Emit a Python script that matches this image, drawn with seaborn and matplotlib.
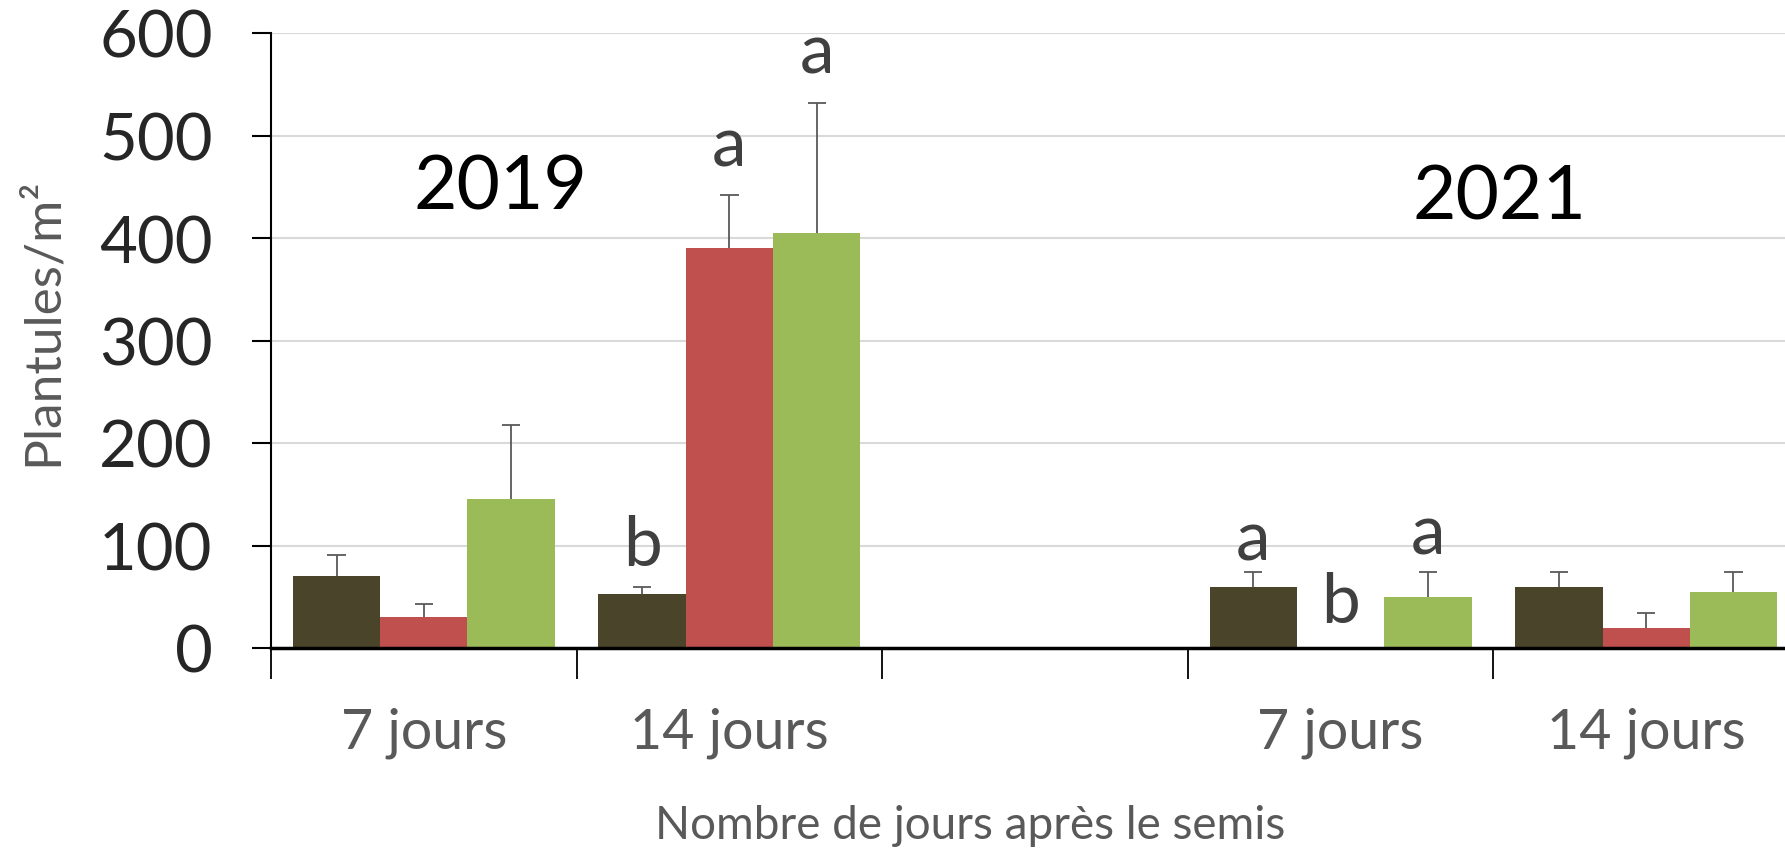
import pandas as pd
import matplotlib
matplotlib.use("Agg")
import matplotlib.pyplot as plt
import seaborn as sns

# données
keys = ["2019_7j", "2019_14j", "vide", "2021_7j", "2021_14j"]
tick_labels = ["7 jours", "14 jours", "", "7 jours", "14 jours"]
series = ["Série 1", "Série 2", "Série 3"]
colors = ["#4a452a", "#c0504d", "#9bbb59"]

serie1 = [70, 53, 0, 60, 60]
serie2 = [30, 390, 0, 0, 20]
serie3 = [145, 405, 0, 50, 55]

err1 = [21, 7, 0, 14, 14]
err2 = [13, 52, 0, 0, 14]
err3 = [73, 127, 0, 24, 19]

# lettres de significativité (texte, hauteur)
lettres1 = [("", 0), ("b", 100), ("", 0), ("a", 105), ("", 0)]
lettres2 = [("", 0), ("a", 490), ("", 0), ("b", 44), ("", 0)]
lettres3 = [("", 0), ("a", 580), ("", 0), ("a", 111), ("", 0)]

annees = ["2019", "2021"]
annees_x = [0.25, 3.52]
annees_y = [450, 440]

df = pd.DataFrame({
    "jour": keys * 3,
    "serie": [s for s in series for _ in keys],
    "valeur": serie1 + serie2 + serie3,
})
errs = [err1, err2, err3]
lettres = [lettres1, lettres2, lettres3]

sns.set_style("white")
plt.rcParams["font.family"] = ["Lato", "DejaVu Sans"]

fig = plt.figure(figsize=(17.85, 8.53), dpi=100)
ax = fig.add_axes([271 / 1785, 204 / 853, 1528 / 1785, 615 / 853])

sns.barplot(data=df, x="jour", y="valeur", hue="serie", order=keys,
            hue_order=series, palette=colors, width=0.857, gap=0,
            errorbar=None, legend=False, saturation=1, linewidth=0, ax=ax)

cap = 0.03
for cont, err, let in zip(ax.containers, errs, lettres):
    for bar, e, (txt, ty) in zip(cont, err, let):
        xc = bar.get_x() + bar.get_width() / 2
        h = bar.get_height()
        if e > 0:
            # barre d'erreur vers le haut seulement
            ax.vlines(xc, h, h + e, color="#595959", linewidth=1.3, zorder=3)
            ax.hlines(h + e, xc - cap, xc + cap, color="#595959",
                      linewidth=1.3, zorder=3)
        if txt:
            ax.text(xc, ty, txt, ha="center", va="center", fontsize=50,
                    color="#404040")

for t, x, y in zip(annees, annees_x, annees_y):
    ax.text(x, y, t, ha="center", va="center", fontsize=54, color="black")

ax.set_xlim(-0.5, 4.5)
ax.set_ylim(0, 600)
ax.set_yticks(range(0, 601, 100))
ax.yaxis.grid(True, color="#d9d9d9", linewidth=1.5)
ax.set_axisbelow(True)

ax.set_xticks([i - 0.5 for i in range(6)])
ax.set_xticklabels([])
ax.set_xticks(range(5), minor=True)
ax.set_xticklabels(tick_labels, minor=True, fontsize=40, color="#595959")
ax.tick_params(axis="x", which="major", direction="out", length=22,
               width=1.3, color="black", bottom=True)
ax.tick_params(axis="x", which="minor", length=0, pad=42)
ax.tick_params(axis="y", direction="out", length=14, width=1.5,
               color="black", labelsize=47, pad=28, left=True)

for s in ["top", "right"]:
    ax.spines[s].set_visible(False)
ax.spines["left"].set_color("black")
ax.spines["left"].set_linewidth(1.5)
ax.spines["bottom"].set_color("black")
ax.spines["bottom"].set_linewidth(2.5)

ax.set_xlabel("")
ax.set_ylabel("")
fig.text(970 / 1785, 27 / 853, "Nombre de jours après le semis",
         ha="center", va="center", fontsize=33, color="#595959")
fig.text(43 / 1785, 531 / 853, "Plantules/m²", ha="center", va="center",
         rotation=90, fontsize=37, color="#595959")

fig.savefig("out.png", dpi=100)
